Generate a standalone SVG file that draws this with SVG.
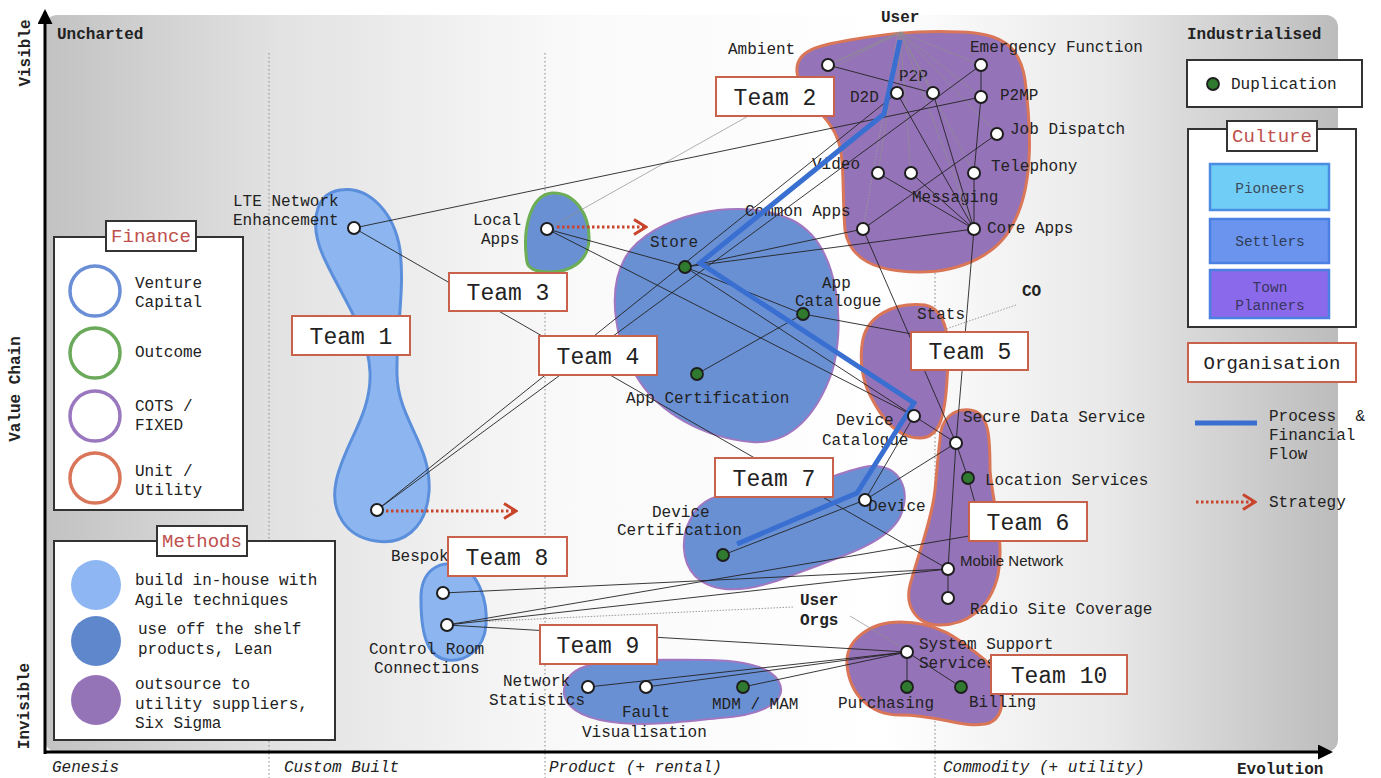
<svg xmlns="http://www.w3.org/2000/svg" width="1381" height="778" viewBox="0 0 1381 778">
  <defs>
    <linearGradient id="bg" x1="45" y1="0" x2="1338" y2="0" gradientUnits="userSpaceOnUse">
      <stop offset="0" stop-color="#c2c2c2"/>
      <stop offset="0.18" stop-color="#e2e2e2"/>
      <stop offset="0.4" stop-color="#f9f9f9"/>
      <stop offset="0.65" stop-color="#ffffff"/>
      <stop offset="0.82" stop-color="#e9e9e9"/>
      <stop offset="1" stop-color="#bcbcbc"/>
    </linearGradient>
    <marker id="axisHead" viewBox="0 0 10 10" refX="8" refY="5" markerWidth="5" markerHeight="5" orient="auto">
      <path d="M0,0 L10,5 L0,10 Z" fill="#000"/>
    </marker>
    <marker id="chevron" viewBox="0 0 10 12" refX="9" refY="6" markerWidth="5" markerHeight="6" orient="auto" markerUnits="strokeWidth">
      <path d="M1,1 L9,6 L1,11" fill="none" stroke="#c8452c" stroke-width="2"/>
    </marker>
    <style>
      .mono { font-family: "Liberation Mono", "Courier New", monospace; }
      .lbl { font-family: "Liberation Mono", "Courier New", monospace; font-size: 16px; fill: #222; }
      .bold { font-weight: bold; }
      .ital { font-style: italic; }
      .sans { font-family: "Liberation Sans", Arial, sans-serif; font-size: 15px; fill: #222; }
      .guide { stroke: #9a9a9a; stroke-width: 1.2; stroke-dasharray: 1.5 2.5; fill: none; }
      .agile { fill: #8db6f1; stroke: #5c8fdb; stroke-width: 3; }
      .lean { fill: #6a90d4; stroke: #a077c0; stroke-width: 2; }
      .leanG { fill: #6a90d4; stroke: #6cae55; stroke-width: 3; }
      .sigma { fill: #9573b8; stroke: #da7658; stroke-width: 3; }
      .link { stroke: #222; stroke-width: 0.9; fill: none; }
      .faint { stroke: #8e8e8e; stroke-width: 0.7; fill: none; }
      .faintDot { stroke: #9a9a9a; stroke-width: 1; stroke-dasharray: 1.5 1.5; fill: none; }
      .node { fill: #fff; stroke: #1d1d1d; stroke-width: 2; }
      .dup { fill: #2f7a2f; stroke: #1d1d1d; stroke-width: 1.8; }
      .flow { stroke: #3a6fd2; stroke-width: 5; fill: none; stroke-linejoin: miter; }
      .strategy { stroke: #c8452c; stroke-width: 3; stroke-dasharray: 2.5 2.5; fill: none; }
      .team rect { fill: #fff; stroke: #c9624c; stroke-width: 2; }
      .team text { font-family: "Liberation Mono", "Courier New", monospace; font-size: 23px; fill: #222; text-anchor: middle; }
      .box { fill: #fff; stroke: #333; stroke-width: 2; }
      .title { fill: #fff; stroke: #333; stroke-width: 2; }
      .titleText { font-family: "Liberation Mono", "Courier New", monospace; font-size: 19px; fill: #c0504d; text-anchor: middle; }
    </style>
  </defs>

  <!-- map canvas -->
  <rect x="45" y="15" width="1293" height="737" rx="12" fill="url(#bg)"/>

  <!-- evolution stage separators -->
  <g id="stage-lines">
    <line class="guide" x1="269" y1="53" x2="269" y2="778"/>
    <line class="guide" x1="545" y1="53" x2="545" y2="778"/>
    <line class="guide" x1="935" y1="53" x2="935" y2="778"/>
  </g>

  <!-- axes -->
  <g id="axes">
    <line x1="45" y1="754" x2="45" y2="12" stroke="#000" stroke-width="3" marker-end="url(#axisHead)"/>
    <line x1="44" y1="752" x2="1330" y2="752" stroke="#000" stroke-width="3" marker-end="url(#axisHead)"/>
    <text class="lbl bold" x="57" y="39">Uncharted</text>
    <text class="lbl bold" x="1187" y="39">Industrialised</text>
    <text class="lbl bold" transform="translate(30,53) rotate(-90)" text-anchor="middle">Visible</text>
    <text class="lbl bold" transform="translate(20,389) rotate(-90)" text-anchor="middle">Value Chain</text>
    <text class="lbl bold" transform="translate(29,706) rotate(-90)" text-anchor="middle">Invisible</text>
    <text class="lbl ital" x="52" y="772">Genesis</text>
    <text class="lbl ital" x="284" y="772">Custom Built</text>
    <text class="lbl ital" x="549" y="772">Product (+ rental)</text>
    <text class="lbl ital" x="943" y="772">Commodity (+ utility)</text>
    <text class="lbl bold" x="1237" y="774">Evolution</text>
  </g>

  <!-- team territories -->
  <g id="territories">
    <path id="area-team1" class="agile" d="M340,190 C370,185 395,215 400,250 C405,290 396,330 397,375 C398,420 432,445 429,492 C426,530 402,545 376,541 C346,537 330,512 336,482 C343,445 372,415 370,372 C368,332 345,302 326,262 C308,226 314,194 340,190 Z"/>
    <path id="area-localapps" class="leanG" d="M527,262 C522,230 530,195 552,193 C575,192 590,215 589,240 C588,262 570,272 550,272 C535,272 528,268 527,262 Z"/>
    <path id="area-store" class="lean" d="M625,258 C650,215 740,195 792,220 C842,245 845,330 832,372 C818,412 792,445 752,442 C702,438 660,412 640,382 C615,345 606,292 625,258 Z"/>
    <path id="area-team2" class="sigma" d="M797,72 C795,50 820,45 850,40 C880,35 910,30 960,32 C1000,33 1020,45 1025,80 C1030,120 1035,180 1015,220 C1000,255 960,272 920,272 C880,272 850,262 845,230 C842,195 845,160 838,140 C830,115 800,100 797,72 Z"/>
    <path id="area-stats" class="sigma" d="M862,345 C865,315 895,302 925,305 C948,310 950,340 947,380 C945,415 940,438 920,438 C895,438 880,415 870,395 C862,380 860,360 862,345 Z"/>
    <path id="area-team6" class="sigma" d="M940,440 C940,418 955,408 970,410 C990,412 990,440 990,470 C992,500 1005,540 998,575 C990,610 965,625 940,625 C915,625 905,605 910,585 C918,555 932,520 935,490 C937,470 938,455 940,440 Z"/>
    <path id="area-team7" class="lean" d="M690,520 C700,495 730,490 770,490 C810,490 840,470 870,466 C900,464 912,490 900,517 C885,546 830,560 790,576 C750,592 715,595 695,576 C680,560 682,535 690,520 Z"/>
    <path id="area-team8" class="agile" d="M421,600 C420,570 440,560 458,565 C478,572 488,600 486,625 C484,650 465,662 448,660 C430,658 421,640 421,600 Z"/>
    <path id="area-team9" class="lean" d="M565,685 C570,665 600,660 640,660 C700,660 760,655 778,680 C790,700 765,715 720,718 C680,722 640,728 600,720 C572,714 560,700 565,685 Z"/>
    <path id="area-team10" class="sigma" d="M847,665 C845,640 870,622 900,622 C940,622 960,640 985,660 C1005,680 1010,720 985,724 C960,728 940,715 900,715 C870,715 850,695 847,665 Z"/>
  </g>

  <!-- component labels -->
  <g id="labels">
    <text class="lbl bold" x="881" y="22">User</text>
    <text class="lbl" x="728" y="54">Ambient</text>
    <text class="lbl" x="899" y="81">P2P</text>
    <text class="lbl" x="850" y="102">D2D</text>
    <text class="lbl" x="970" y="52">Emergency Function</text>
    <text class="lbl" x="1000" y="100">P2MP</text>
    <text class="lbl" x="1010" y="134">Job Dispatch</text>
    <text class="lbl" x="812" y="169">Video</text>
    <text class="lbl" x="991" y="171">Telephony</text>
    <text class="lbl" x="912" y="202">Messaging</text>
    <text class="lbl" x="745" y="216">Common Apps</text>
    <text class="lbl" x="987" y="233">Core Apps</text>
    <text class="lbl" x="650" y="247">Store</text>
    <text class="lbl" x="473" y="225">Local</text>
    <text class="lbl" x="481" y="244">Apps</text>
    <text class="lbl" x="233" y="206">LTE Network</text>
    <text class="lbl" x="233" y="225">Enhancement</text>
    <text class="lbl" x="822" y="288">App</text>
    <text class="lbl" x="795" y="306">Catalogue</text>
    <text class="lbl" x="626" y="403">App Certification</text>
    <text class="lbl" x="917" y="319">Stats</text>
    <text class="lbl bold" x="1022" y="296">CO</text>
    <text class="lbl" x="836" y="425">Device</text>
    <text class="lbl" x="822" y="445">Catalogue</text>
    <text class="lbl" x="963" y="422">Secure Data Service</text>
    <text class="lbl" x="985" y="485">Location Services</text>
    <text class="lbl" x="868" y="511">Device</text>
    <text class="lbl" x="652" y="517">Device</text>
    <text class="lbl" x="617" y="535">Certification</text>
    <text class="sans" x="960" y="566">Mobile Network</text>
    <text class="lbl" x="970" y="614">Radio Site Coverage</text>
    <text class="lbl" x="391" y="561">Bespoke</text>
    <text class="lbl" x="369" y="654">Control Room</text>
    <text class="lbl" x="374" y="673">Connections</text>
    <text class="lbl bold" x="800" y="605">User</text>
    <text class="lbl bold" x="800" y="625">Orgs</text>
    <text class="lbl" x="919" y="649">System Support</text>
    <text class="lbl" x="919" y="668">Services</text>
    <text class="lbl" x="503" y="686">Network</text>
    <text class="lbl" x="489" y="705">Statistics</text>
    <text class="lbl" x="622" y="717">Fault</text>
    <text class="lbl" x="582" y="737">Visualisation</text>
    <text class="lbl" x="712" y="709">MDM / MAM</text>
    <text class="lbl" x="838" y="708">Purchasing</text>
    <text class="lbl" x="969" y="707">Billing</text>
  </g>

  <!-- dependencies -->
  <g id="connectors">
    <g id="user-needs">
      <line class="faint" x1="900" y1="32" x2="828" y2="65"/>
      <line class="faint" x1="904" y1="32" x2="832" y2="63"/>
      <line class="faint" x1="900" y1="32" x2="981" y2="65"/>
      <line class="faint" x1="900" y1="32" x2="981" y2="97"/>
      <line class="faint" x1="900" y1="32" x2="997" y2="134"/>
      <line class="faint" x1="900" y1="32" x2="974" y2="173"/>
      <line class="faint" x1="900" y1="32" x2="974" y2="229"/>
      <line class="faint" x1="900" y1="32" x2="911" y2="173"/>
      <line class="faint" x1="900" y1="32" x2="878" y2="173"/>
      <line class="faint" x1="900" y1="32" x2="897" y2="93"/>
      <line class="faint" x1="900" y1="32" x2="933" y2="93"/>
      <line class="faintDot" x1="898" y1="32" x2="863" y2="229"/>
      <line class="faint" x1="898" y1="32" x2="547" y2="229"/>
      <line class="faintDot" x1="1016" y1="305" x2="943" y2="330"/>
      <line class="faintDot" x1="793" y1="607" x2="452" y2="623"/>
      <line class="faint" x1="850" y1="616" x2="903" y2="648"/>
    </g>
    <line class="link" x1="354" y1="228" x2="981" y2="97"/>
    <line class="link" x1="354" y1="228" x2="948" y2="569"/>
    <line class="link" x1="547" y1="229" x2="685" y2="267"/>
    <line class="link" x1="547" y1="229" x2="914" y2="416"/>
    <line class="link" x1="377" y1="510" x2="897" y2="93"/>
    <line class="link" x1="377" y1="510" x2="981" y2="65"/>
    <line class="link" x1="685" y1="267" x2="803" y2="314"/>
    <line class="link" x1="685" y1="267" x2="914" y2="416"/>
    <line class="link" x1="685" y1="267" x2="863" y2="229"/>
    <line class="link" x1="685" y1="267" x2="974" y2="229"/>
    <line class="link" x1="697" y1="374" x2="803" y2="314"/>
    <line class="link" x1="803" y1="314" x2="912" y2="334"/>
    <line class="link" x1="828" y1="65" x2="933" y2="93"/>
    <line class="link" x1="897" y1="93" x2="974" y2="229"/>
    <line class="link" x1="933" y1="93" x2="974" y2="229"/>
    <line class="link" x1="981" y1="65" x2="981" y2="97"/>
    <line class="link" x1="981" y1="97" x2="974" y2="173"/>
    <line class="link" x1="974" y1="173" x2="974" y2="229"/>
    <line class="link" x1="997" y1="134" x2="863" y2="229"/>
    <line class="link" x1="878" y1="173" x2="974" y2="229"/>
    <line class="link" x1="911" y1="173" x2="974" y2="229"/>
    <line class="link" x1="863" y1="229" x2="956" y2="443"/>
    <line class="link" x1="974" y1="229" x2="956" y2="443"/>
    <line class="link" x1="914" y1="416" x2="956" y2="443"/>
    <line class="link" x1="914" y1="416" x2="865" y2="500"/>
    <line class="link" x1="865" y1="500" x2="956" y2="443"/>
    <line class="link" x1="723" y1="555" x2="865" y2="500"/>
    <line class="link" x1="956" y1="443" x2="948" y2="569"/>
    <line class="link" x1="956" y1="443" x2="968" y2="478"/>
    <line class="link" x1="968" y1="478" x2="975" y2="503"/>
    <line class="link" x1="948" y1="569" x2="948" y2="598"/>
    <line class="link" x1="443" y1="593" x2="948" y2="569"/>
    <line class="link" x1="447" y1="625" x2="948" y2="569"/>
    <line class="link" x1="447" y1="625" x2="969" y2="536"/>
    <line class="link" x1="447" y1="625" x2="907" y2="652"/>
    <line class="link" x1="588" y1="687" x2="907" y2="652"/>
    <line class="link" x1="646" y1="687" x2="907" y2="652"/>
    <line class="link" x1="743" y1="687" x2="907" y2="652"/>
    <line class="link" x1="907" y1="652" x2="907" y2="687"/>
    <line class="link" x1="907" y1="652" x2="961" y2="687"/>
  </g>

  <!-- process & financial flow -->
  <polyline id="flow" class="flow" points="900,40 884,114 700,263 914,403 857,493 737,544"/>

  <!-- strategy moves -->
  <g id="strategy">
    <line class="strategy" x1="557" y1="227" x2="646" y2="227" marker-end="url(#chevron)"/>
    <line class="strategy" x1="386" y1="511" x2="516" y2="511" marker-end="url(#chevron)"/>
  </g>

  <!-- components -->
  <g id="nodes">
    <circle id="n-ambient" class="node" cx="828" cy="65" r="6"/>
    <circle id="n-d2d" class="node" cx="897" cy="93" r="6"/>
    <circle id="n-p2p" class="node" cx="933" cy="93" r="6"/>
    <circle id="n-emergency" class="node" cx="981" cy="65" r="6"/>
    <circle id="n-p2mp" class="node" cx="981" cy="97" r="6"/>
    <circle id="n-jobdispatch" class="node" cx="997" cy="134" r="6"/>
    <circle id="n-video" class="node" cx="878" cy="173" r="6"/>
    <circle id="n-messaging" class="node" cx="911" cy="173" r="6"/>
    <circle id="n-telephony" class="node" cx="974" cy="173" r="6"/>
    <circle id="n-commonapps" class="node" cx="863" cy="229" r="6"/>
    <circle id="n-coreapps" class="node" cx="974" cy="229" r="6"/>
    <circle id="n-localapps" class="node" cx="547" cy="229" r="6"/>
    <circle id="n-lte" class="node" cx="354" cy="228" r="6"/>
    <circle id="n-store" class="dup" cx="685" cy="267" r="6"/>
    <circle id="n-appcatalogue" class="dup" cx="803" cy="314" r="6"/>
    <circle id="n-appcert" class="dup" cx="697" cy="374" r="6"/>
    <circle id="n-devicecatalogue" class="node" cx="914" cy="416" r="6"/>
    <circle id="n-securedata" class="node" cx="956" cy="443" r="6"/>
    <circle id="n-location" class="dup" cx="968" cy="478" r="6"/>
    <circle id="n-device" class="node" cx="865" cy="500" r="6"/>
    <circle id="n-devicecert" class="dup" cx="723" cy="555" r="6"/>
    <circle id="n-deviceenh" class="node" cx="377" cy="510" r="6"/>
    <circle id="n-mobilenetwork" class="node" cx="948" cy="569" r="6"/>
    <circle id="n-radio" class="node" cx="948" cy="598" r="6"/>
    <circle id="n-bespoke" class="node" cx="443" cy="593" r="6"/>
    <circle id="n-controlroom" class="node" cx="447" cy="625" r="6"/>
    <circle id="n-systemsupport" class="node" cx="907" cy="652" r="6"/>
    <circle id="n-netstats" class="node" cx="588" cy="687" r="6"/>
    <circle id="n-fault" class="node" cx="646" cy="687" r="6"/>
    <circle id="n-mdm" class="dup" cx="743" cy="687" r="6"/>
    <circle id="n-purchasing" class="dup" cx="907" cy="687" r="6"/>
    <circle id="n-billing" class="dup" cx="961" cy="687" r="6"/>
  </g>

  <!-- team labels -->
  <g id="team1" class="team"><rect x="292" y="316" width="118" height="39"/><text x="351" y="344">Team 1</text></g>
  <g id="team2" class="team"><rect x="716" y="77" width="118" height="39"/><text x="775" y="105">Team 2</text></g>
  <g id="team3" class="team"><rect x="449" y="273" width="118" height="38"/><text x="508" y="300">Team 3</text></g>
  <g id="team4" class="team"><rect x="539" y="336" width="118" height="39"/><text x="598" y="364">Team 4</text></g>
  <g id="team5" class="team"><rect x="911" y="332" width="117" height="38"/><text x="970" y="359">Team 5</text></g>
  <g id="team6" class="team"><rect x="969" y="502" width="118" height="39"/><text x="1028" y="530">Team 6</text></g>
  <g id="team7" class="team"><rect x="715" y="458" width="118" height="39"/><text x="774" y="486">Team 7</text></g>
  <g id="team8" class="team"><rect x="448" y="537" width="119" height="39"/><text x="507" y="565">Team 8</text></g>
  <g id="team9" class="team"><rect x="540" y="625" width="117" height="39"/><text x="598" y="653">Team 9</text></g>
  <g id="team10" class="team"><rect x="991" y="655" width="136" height="39"/><text x="1059" y="683">Team 10</text></g>

  <!-- finance legend -->
  <g id="legend-finance">
    <rect class="box" x="54" y="237" width="189" height="273"/>
    <rect class="title" x="106" y="221" width="90" height="30"/>
    <text class="titleText" x="151" y="242">Finance</text>
    <circle cx="95" cy="291" r="25" fill="#fff" stroke="#6a8fd6" stroke-width="3.5"/>
    <circle cx="95" cy="353" r="25" fill="#fff" stroke="#6aaa5a" stroke-width="3.5"/>
    <circle cx="95" cy="416" r="25" fill="#fff" stroke="#9a78c0" stroke-width="3.5"/>
    <circle cx="95" cy="478" r="25" fill="#fff" stroke="#d9765a" stroke-width="3.5"/>
    <text class="lbl" x="135" y="288">Venture</text>
    <text class="lbl" x="135" y="307">Capital</text>
    <text class="lbl" x="135" y="357">Outcome</text>
    <text class="lbl" x="135" y="411">COTS /</text>
    <text class="lbl" x="135" y="430">FIXED</text>
    <text class="lbl" x="135" y="476">Unit /</text>
    <text class="lbl" x="135" y="495">Utility</text>
  </g>

  <!-- methods legend -->
  <g id="legend-methods">
    <rect class="box" x="54" y="541" width="281" height="199"/>
    <rect class="title" x="157" y="526" width="90" height="30"/>
    <text class="titleText" x="202" y="547">Methods</text>
    <circle cx="96" cy="585" r="25" fill="#8db6f2"/>
    <circle cx="96" cy="641" r="25" fill="#5f88cc"/>
    <circle cx="96" cy="700" r="25" fill="#9474b7"/>
    <text class="lbl" x="135" y="585">build in-house with</text>
    <text class="lbl" x="135" y="605">Agile techniques</text>
    <text class="lbl" x="138" y="634">use off the shelf</text>
    <text class="lbl" x="138" y="654">products, Lean</text>
    <text class="lbl" x="135" y="689">outsource to</text>
    <text class="lbl" x="135" y="709">utility suppliers,</text>
    <text class="lbl" x="135" y="728">Six Sigma</text>
  </g>

  <!-- duplication legend -->
  <g id="legend-duplication">
    <rect class="box" x="1187" y="60" width="175" height="47"/>
    <circle class="dup" cx="1213" cy="84" r="6"/>
    <text class="lbl" x="1231" y="89">Duplication</text>
  </g>

  <!-- culture legend -->
  <g id="legend-culture">
    <rect class="box" x="1188" y="129" width="168" height="198"/>
    <rect class="title" x="1227" y="121" width="90" height="30"/>
    <text class="titleText" x="1272" y="142">Culture</text>
    <rect x="1210" y="164" width="119" height="46" fill="#70cdf6" stroke="#4a8de2" stroke-width="2.5"/>
    <text class="mono" x="1270" y="193" font-size="14.5" fill="#3d4a5a" text-anchor="middle">Pioneers</text>
    <rect x="1210" y="219" width="119" height="44" fill="#6b94ee" stroke="#4a80e2" stroke-width="2.5"/>
    <text class="mono" x="1270" y="246" font-size="14.5" fill="#2f3d55" text-anchor="middle">Settlers</text>
    <rect x="1210" y="270" width="119" height="48" fill="#8a6aea" stroke="#4a80e2" stroke-width="2.5"/>
    <text class="mono" x="1270" y="292" font-size="14.5" fill="#3a3560" text-anchor="middle">Town</text>
    <text class="mono" x="1270" y="310" font-size="14.5" fill="#3a3560" text-anchor="middle">Planners</text>
  </g>

  <!-- organisation legend -->
  <g id="legend-organisation">
    <rect x="1188" y="343" width="168" height="39" fill="#fff" stroke="#c9624c" stroke-width="2"/>
    <text class="mono" x="1272" y="369" font-size="19" fill="#222" text-anchor="middle">Organisation</text>
  </g>

  <!-- flow and strategy legend -->
  <g id="legend-lines">
    <line class="flow" x1="1195" y1="423" x2="1257" y2="423" stroke-width="4"/>
    <text class="lbl" x="1269" y="421" xml:space="preserve">Process  &amp;</text>
    <text class="lbl" x="1269" y="440">Financial</text>
    <text class="lbl" x="1269" y="459">Flow</text>
    <line class="strategy" x1="1196" y1="502" x2="1255" y2="502" marker-end="url(#chevron)"/>
    <text class="lbl" x="1269" y="507">Strategy</text>
  </g>
</svg>
